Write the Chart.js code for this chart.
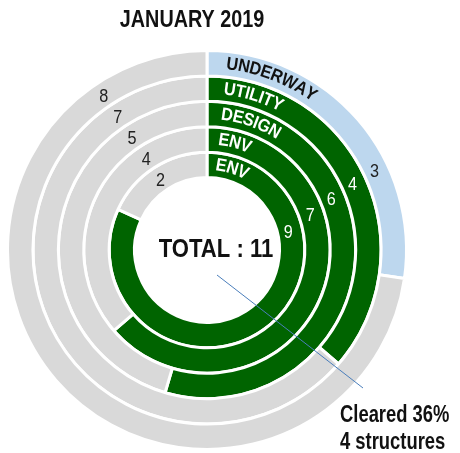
<!DOCTYPE html>
<html>
<head>
<meta charset="utf-8">
<script src="https://cdn.jsdelivr.net/npm/chart.js@4.4.1/dist/chart.umd.min.js"></script>
<style>
  html, body { margin: 0; padding: 0; background: #fff; }
</style>
</head>
<body>
<canvas id="myChart" width="460" height="453"></canvas>
<script>
const title = 'JANUARY 2019'
const rings = ['UNDERWAY', 'UTILITY', 'DESIGN', 'ENV', 'ENV']
const done = [3, 4, 6, 7, 9]
const remaining = [8, 7, 5, 4, 2]
const total = 11
const cleared = 4

const FONT = "'Liberation Sans', Arial, sans-serif"

const green = '#006400'
const blue = '#bdd7ee'
const grey = '#d9d9d9'

// no narrow face installed, so squeeze the normal one
function narrowText(ctx, text, x, y, sx) {
  ctx.save()
  ctx.translate(x, y)
  ctx.scale(sx, 1)
  ctx.fillText(text, 0, 0)
  ctx.restore()
}

// text that follows the ring, letter by letter
function arcText(ctx, text, cx, cy, r, startDeg, sx) {
  let a = startDeg * Math.PI / 180
  for (const ch of text) {
    const w = ctx.measureText(ch).width * sx
    a += w / 2 / r
    ctx.save()
    ctx.translate(cx + r * Math.sin(a), cy - r * Math.cos(a))
    ctx.rotate(a)
    ctx.scale(sx, 1)
    ctx.fillText(ch, 0, 0)
    ctx.restore()
    a += w / 2 / r
  }
}

function polar(cx, cy, r, deg) {
  const a = deg * Math.PI / 180
  return [cx + r * Math.sin(a), cy - r * Math.cos(a)]
}

const labelsPlugin = {
  id: 'labels',
  afterDraw(chart) {
    const ctx = chart.ctx
    const doneAngle = [65, 66, 68, 72, 78]
    const restAngle = -34
    ctx.save()
    let cx = 0, cy = 0
    chart.data.datasets.forEach((ds, i) => {
      const arc = chart.getDatasetMeta(i).data[0]
      cx = arc.x
      cy = arc.y
      const r = (arc.innerRadius + arc.outerRadius) / 2

      // ring name
      ctx.font = 'bold 18px ' + FONT
      ctx.textAlign = 'center'
      ctx.textBaseline = 'middle'
      ctx.fillStyle = i === 0 ? '#111' : '#fff'
      arcText(ctx, rings[i], cx, cy, r, 6, 0.9)

      // values
      ctx.font = '18px ' + FONT
      ctx.fillStyle = i === 0 ? '#222' : '#fff'
      let p = polar(cx, cy, r - 2, doneAngle[i])
      narrowText(ctx, ds.data[0], p[0], p[1], 0.9)
      ctx.fillStyle = '#222'
      p = polar(cx, cy, r - 2, restAngle)
      narrowText(ctx, ds.data[1], p[0], p[1], 0.9)
    })

    // title
    ctx.textAlign = 'center'
    ctx.textBaseline = 'alphabetic'
    ctx.fillStyle = '#111'
    ctx.font = 'bold 23px ' + FONT
    narrowText(ctx, title, 192, 27, 0.86)

    // centre
    ctx.font = 'bold 26px ' + FONT
    narrowText(ctx, 'TOTAL : ' + total, cx + 9, cy + 7, 0.85)

    // call-out
    ctx.strokeStyle = '#4a7ebb'
    ctx.lineWidth = 1
    ctx.beginPath()
    ctx.moveTo(cx + 10, cy + 25)
    ctx.lineTo(cx + 156, cy + 138)
    ctx.stroke()

    ctx.textAlign = 'left'
    ctx.font = 'bold 23px ' + FONT
    narrowText(ctx, 'Cleared ' + Math.round(cleared / total * 100) + '%', 340, 422, 0.8)
    narrowText(ctx, cleared + ' structures', 340, 449, 0.8)
    ctx.restore()
  }
}

new Chart(document.getElementById('myChart'), {
  type: 'doughnut',
  data: {
    labels: ['Cleared', 'Remaining'],
    datasets: rings.map((name, i) => ({
      label: name,
      data: [done[i], remaining[i]],
      backgroundColor: [i === 0 ? blue : green, grey],
      borderColor: '#fff',
      borderWidth: 3
    }))
  },
  options: {
    responsive: false,
    animation: false,
    radius: 199.5,
    cutout: '36.3%',
    layout: { padding: { left: 0, right: 46, top: 47, bottom: 0 } },
    plugins: {
      legend: { display: false },
      tooltip: { enabled: false }
    }
  },
  plugins: [labelsPlugin]
});
</script>
</body>
</html>
